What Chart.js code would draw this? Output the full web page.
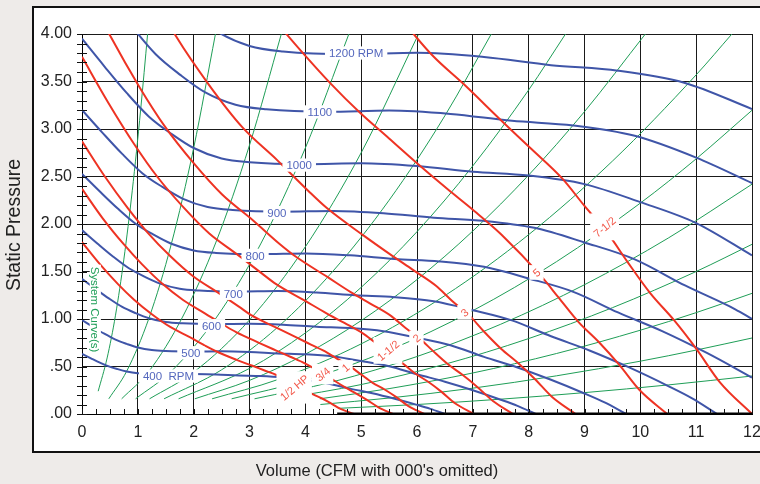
<!DOCTYPE html>
<html><head><meta charset="utf-8">
<script src="https://cdn.jsdelivr.net/npm/chart.js@4.4.1/dist/chart.umd.min.js"></script>
<style>html,body{margin:0;padding:0;background:#eeebe9;}canvas{display:block;}</style>
</head><body>
<canvas id="c" width="760" height="484"></canvas>
<script>
// ---------- tick labels ----------
const xTickLabels = ['0','1','2','3','4','5','6','7','8','9','10','11','12'];
const yTickLabels = ['.00','.50','1.00','1.50','2.00','2.50','3.00','3.50','4.00'];

// ---------- fan speed curves (RPM): [volume, static pressure] ----------
const rpm400 = [[0,0.632],[0.16,0.586],[0.32,0.541],[0.48,0.501],[0.64,0.472],[0.8,0.448],[1.0,0.430],[1.2,0.424],[1.6,0.421],[2.0,0.420],[2.4,0.416],[2.8,0.406],[3.2,0.400],[3.6,0.385],[4.0,0.357],[4.4,0.322],[4.8,0.267],[5.2,0.218],[5.6,0.16],[6.0,0.096],[6.24,0.054],[6.5,0]];
const rpm500 = [[0,0.988],[0.2,0.915],[0.4,0.845],[0.6,0.783],[0.8,0.738],[1.0,0.70],[1.25,0.673],[1.5,0.663],[2.0,0.658],[2.5,0.66],[3.0,0.653],[3.5,0.638],[4.0,0.628],[4.5,0.605],[5.0,0.558],[5.5,0.503],[6.0,0.418],[6.5,0.34],[7.0,0.25],[7.5,0.15],[7.8,0.085],[8.125,0]];
const rpm600 = [[0,1.422],[0.24,1.318],[0.48,1.217],[0.72,1.127],[0.96,1.062],[1.2,1.008],[1.5,0.968],[1.8,0.954],[2.4,0.947],[3.0,0.950],[3.6,0.940],[4.2,0.918],[4.8,0.904],[5.4,0.871],[6.0,0.803],[6.6,0.724],[7.2,0.601],[7.8,0.490],[8.4,0.36],[9.0,0.216],[9.36,0.122],[9.75,0]];
const rpm700 = [[0,1.936],[0.28,1.793],[0.56,1.656],[0.84,1.534],[1.12,1.446],[1.4,1.372],[1.75,1.318],[2.1,1.299],[2.8,1.289],[3.5,1.294],[4.2,1.279],[4.9,1.250],[5.6,1.230],[6.3,1.186],[7.0,1.093],[7.7,0.985],[8.4,0.818],[9.1,0.666],[9.8,0.49],[10.5,0.294],[10.92,0.167],[11.375,0]];
const rpm800 = [[0,2.528],[0.32,2.342],[0.64,2.163],[0.96,2.003],[1.28,1.888],[1.6,1.792],[2.0,1.722],[2.4,1.696],[3.2,1.683],[4.0,1.690],[4.8,1.670],[5.6,1.632],[6.4,1.606],[7.2,1.549],[8.0,1.427],[8.8,1.286],[9.6,1.069],[10.4,0.870],[11.2,0.64],[12.0,0.384]];
const rpm900 = [[0,3.2],[0.36,2.965],[0.72,2.738],[1.08,2.535],[1.44,2.390],[1.8,2.268],[2.25,2.179],[2.7,2.147],[3.6,2.130],[4.5,2.138],[5.4,2.114],[6.3,2.066],[7.2,2.033],[8.1,1.960],[9.0,1.806],[9.9,1.628],[10.8,1.353],[11.7,1.102],[12.0,1.0]];
const rpm1000 = [[0,3.95],[0.4,3.66],[0.8,3.38],[1.2,3.13],[1.6,2.95],[2.0,2.80],[2.5,2.69],[3.0,2.65],[4.0,2.63],[5.0,2.64],[6.0,2.61],[7.0,2.55],[8.0,2.51],[9.0,2.42],[10.0,2.23],[11.0,2.01],[12.0,1.67]];
const rpm1100 = [[0.44,4.43],[0.88,4.09],[1.32,3.787],[1.76,3.570],[2.2,3.388],[2.75,3.255],[3.3,3.207],[4.4,3.182],[5.5,3.194],[6.6,3.158],[7.7,3.086],[8.8,3.037],[9.9,2.928],[11.0,2.698],[12.0,2.43]];
const rpm1200 = [[1.92,4.248],[2.4,4.032],[3.0,3.874],[3.6,3.816],[4.8,3.787],[6.0,3.802],[7.2,3.758],[8.4,3.672],[9.6,3.614],[10.8,3.485],[12.0,3.211]];
const rpmNames = ['400  RPM','500','600','700','800','900','1000','1100','1200 RPM'];

// ---------- horsepower curves ----------
const hp12 = [[0,1.81],[0.324,1.575],[0.649,1.365],[0.933,1.203],[1.257,1.047],[1.58,0.916],[1.93,0.809],[2.23,0.712],[2.41,0.658],[2.77,0.570],[3.04,0.510],[3.26,0.460],[3.49,0.408],[3.65,0.36],[3.82,0.311],[3.96,0.265],[4.13,0.209],[4.30,0.163],[4.46,0.112],[4.63,0.054],[4.87,0]];
const hp34 = [[0,2.37],[0.371,2.06],[0.743,1.79],[1.068,1.58],[1.44,1.37],[1.81,1.20],[2.20,1.06],[2.55,0.933],[2.76,0.862],[3.18,0.747],[3.48,0.668],[3.73,0.603],[3.99,0.534],[4.18,0.472],[4.38,0.407],[4.53,0.347],[4.73,0.274],[4.92,0.213],[5.11,0.146],[5.31,0.071],[5.57,0]];
const hp1 = [[0,2.87],[0.409,2.50],[0.817,2.17],[1.175,1.91],[1.584,1.66],[1.99,1.45],[2.43,1.28],[2.81,1.13],[3.03,1.04],[3.49,0.906],[3.83,0.809],[4.10,0.731],[4.39,0.647],[4.60,0.572],[4.82,0.493],[4.99,0.42],[5.20,0.331],[5.42,0.258],[5.63,0.177],[5.84,0.086],[6.13,0]];
const hp1h = [[0,3.76],[0.468,3.28],[0.936,2.84],[1.345,2.50],[1.81,2.18],[2.28,1.90],[2.78,1.68],[3.22,1.48],[3.47,1.37],[4.0,1.19],[4.38,1.06],[4.70,0.958],[5.03,0.848],[5.26,0.749],[5.51,0.646],[5.71,0.551],[5.95,0.434],[6.20,0.339],[6.44,0.233],[6.68,0.113],[7.02,0]];
const hp2 = [[0,4.56],[0.515,3.97],[1.03,3.44],[1.48,3.03],[2.0,2.64],[2.51,2.31],[3.06,2.04],[3.54,1.79],[3.82,1.66],[4.40,1.44],[4.82,1.28],[5.17,1.16],[5.54,1.03],[5.79,0.907],[6.07,0.783],[6.28,0.667],[6.55,0.526],[6.82,0.41],[7.09,0.28],[7.36,0.137],[7.72,0]];
const hp3 = [[1.18,4.51],[1.69,3.97],[2.28,3.46],[2.87,3.02],[3.50,2.67],[4.05,2.35],[4.38,2.17],[5.04,1.88],[5.52,1.68],[5.92,1.52],[6.34,1.35],[6.63,1.19],[6.95,1.03],[7.19,0.874],[7.50,0.69],[7.81,0.537],[8.11,0.369],[8.42,0.179],[8.84,0]];
const hp5 = [[3.2,4.32],[3.66,4.0],[3.91,3.83],[4.45,3.48],[4.98,3.17],[5.5,2.90],[5.98,2.65],[6.54,2.37],[7.02,2.14],[7.51,1.89],[8.24,1.44],[8.53,1.23],[8.89,0.97],[9.26,0.755],[9.62,0.52],[9.99,0.25],[10.48,0]];
const hp75 = [[4.75,4.95],[5.5,4.33],[5.94,4.0],[6.3,3.76],[6.84,3.47],[7.49,3.10],[8.03,2.80],[8.6,2.48],[9.0,2.19],[9.43,1.89],[9.76,1.61],[10.18,1.27],[10.6,0.99],[11.01,0.68],[11.43,0.33],[12,0]];
const hpNames = ['1/2 HP','3/4','1','1-1/2','2','3','5','7-1/2'];

// ---------- system curves ----------
const sys1 = [[0.29,0.24],[0.45,0.59],[0.6,1.04],[0.75,1.63],[0.9,2.35],[1.05,3.20],[1.175,4.0]];
const sys2 = [[0.48,0.16],[0.8,0.45],[1.2,1.01],[1.6,1.79],[2.0,2.80],[2.39,4.0]];
const sys3 = [[0.71,0.16],[1.2,0.45],[1.8,1.02],[2.4,1.81],[3.0,2.83],[3.57,4.0]];
const sys4 = [[0.96,0.16],[1.6,0.45],[2.4,1.01],[3.2,1.79],[4.0,2.80],[4.78,4.0]];
const sys5 = [[1.21,0.16],[2.0,0.44],[3.0,0.99],[4.0,1.76],[5.0,2.75],[6.02,3.99]];
const sys6 = [[1.47,0.16],[2.5,0.465],[3.5,0.911],[4.5,1.507],[5.5,2.25],[6.5,3.14],[7.33,4.0]];
const sys7 = [[1.73,0.16],[3.0,0.48],[4.0,0.853],[5.0,1.333],[6.0,1.919],[7.0,2.612],[8.0,3.411],[8.66,4.0]];
const sys8 = [[2.02,0.16],[3.0,0.354],[4.0,0.629],[5.0,0.983],[6.0,1.415],[7.0,1.926],[8.0,2.515],[9.0,3.183],[10.09,4.0]];
const sys9 = [[2.33,0.16],[3.5,0.361],[5.0,0.738],[6.5,1.246],[8.0,1.888],[9.5,2.662],[11.0,3.57],[11.64,4.0]];
const sys10 = [[2.68,0.16],[4.0,0.355],[5.5,0.672],[7.0,1.088],[8.5,1.604],[10.0,2.22],[11.0,2.686],[12,3.197]];
const sys11 = [[3.09,0.16],[4.5,0.34],[6.0,0.605],[7.5,0.945],[9.0,1.361],[10.5,1.852],[12,2.419]];
const sys12 = [[3.58,0.16],[5.0,0.31],[6.5,0.524],[8.0,0.794],[9.5,1.119],[11.0,1.50],[12,1.786]];
const sys13 = [[4.26,0.16],[5.5,0.267],[7.0,0.432],[8.5,0.637],[10.0,0.882],[11.0,1.067],[12,1.27]];
const sys14 = [[4.27,0.10],[5.5,0.168],[7.0,0.272],[8.5,0.402],[10.0,0.556],[11.0,0.673],[12,0.80]];
const sys15 = [[4.6,0.06],[6.0,0.10],[7.5,0.156],[9.0,0.225],[10.5,0.306],[12,0.40]];
const baseBar = [[4.57,0],[12,0]];

// ---------- label anchors (data coordinates) ----------
const rpmLabelAt = [[1.55,0.40],[1.95,0.645],[2.32,0.93],[2.71,1.27],[3.10,1.67],[3.49,2.12],[3.89,2.62],[4.26,3.18],[4.91,3.80]];
const hpLabelAt = [[3.80,0.28],[4.31,0.42],[4.72,0.49],[5.48,0.67],[5.99,0.80],[6.85,1.07],[8.14,1.49],[9.36,1.97]];
const sysLabelAt = [0.238,1.10];

const BLUE='#3f55a8', RED='#ee3323', GREEN='#1f9e57';
const toXY = a => a.map(p => ({x:p[0], y:p[1]}));
function ds(arr, color, w, order){
  return {data: toXY(arr), showLine:true, borderColor:color, backgroundColor:color, borderWidth:w,
          pointRadius:0, pointHoverRadius:0, cubicInterpolationMode:'monotone', order:order};
}
const datasets = [];
[sys1,sys2,sys3,sys4,sys5,sys6,sys7,sys8,sys9,sys10,sys11,sys12,sys13,sys14,sys15].forEach(a=>datasets.push(ds(a,GREEN,1,3)));
[rpm400,rpm500,rpm600,rpm700,rpm800,rpm900,rpm1000,rpm1100,rpm1200].forEach(a=>datasets.push(ds(a,BLUE,2,2)));
[hp12,hp34,hp1,hp1h,hp2,hp3,hp5,hp75].forEach(a=>datasets.push(ds(a,RED,2,1)));
datasets.push(ds(baseBar,'#000',3,0));

const frame = {
  id:'frame',
  beforeDraw(chart){
    const c = chart.ctx;
    c.save();
    c.fillStyle='#eeebe9'; c.fillRect(0,0,760,484);
    c.fillStyle='#ffffff'; c.fillRect(33,7,740,445);
    c.strokeStyle='#111'; c.lineWidth=2; c.strokeRect(33,7,740,445);
    c.restore();
  },
  afterDraw(chart){
    const c = chart.ctx, xs = chart.scales.x, ys = chart.scales.y;
    c.save();
    c.strokeStyle='#111'; c.lineWidth=1;
    c.beginPath();
    for(let i=0;i<=40;i++){ const py=Math.round(ys.getPixelForValue(i/10))+0.5; c.moveTo(77,py); c.lineTo(87,py); }
    const b = Math.round(ys.getPixelForValue(0));
    for(let i=0;i<=48;i++){ const px=Math.round(xs.getPixelForValue(i/4))+0.5; c.moveTo(px,b); c.lineTo(px,b-5); }
    c.stroke();
    // axis titles
    c.fillStyle='#222';
    c.font='16.5px "Liberation Sans", Arial, sans-serif';
    c.textAlign='center'; c.textBaseline='middle';
    c.fillText("Volume (CFM with 000's omitted)", 377, 471);
    c.translate(15,225); c.rotate(-Math.PI/2);
    c.font='19.5px "Liberation Sans", Arial, sans-serif';
    c.fillText('Static Pressure',0,0);
    c.restore();
  },
  afterDatasetsDraw(chart){
    const c = chart.ctx, xs = chart.scales.x, ys = chart.scales.y;
    function lab(text, dx, dy, color, size, rot, padX, padY){
      const px = xs.getPixelForValue(dx), py = ys.getPixelForValue(dy);
      c.save();
      c.font = size+'px "Liberation Sans", Arial, sans-serif';
      const w = c.measureText(text).width, h = size*0.8;
      const cs=Math.abs(Math.cos(rot)), sn=Math.abs(Math.sin(rot));
      const bw = w*cs + h*sn + 2*padX, bh = w*sn + h*cs + 2*padY;
      c.fillStyle='#fff'; c.fillRect(px-bw/2, py-bh/2, bw, bh);
      c.translate(px,py); c.rotate(rot);
      c.fillStyle=color; c.textAlign='center'; c.textBaseline='middle';
      c.fillText(text,0,1);
      c.restore();
    }
    rpmNames.forEach((t,i)=>lab(t, rpmLabelAt[i][0], rpmLabelAt[i][1], '#5467bd', 11.5, 0, 4, 2));
    hpNames.forEach((t,i)=>lab(t, hpLabelAt[i][0], hpLabelAt[i][1], '#f2584a', 11, -0.7, 2, 2));
    lab('System Curve(s)', sysLabelAt[0], sysLabelAt[1], '#22a05a', 11.5, Math.PI/2, 1, 2);
  }
};

new Chart(document.getElementById('c'), {
  type:'scatter',
  data:{datasets},
  options:{
    responsive:false, devicePixelRatio:1, animation:false,
    layout:{padding:{left:0,right:8,top:34,bottom:0}},
    plugins:{legend:{display:false}, tooltip:{enabled:false}},
    scales:{
      x:{type:'linear', min:0, max:12,
         afterFit:s=>{s.height=70; s.paddingRight=8; s.paddingLeft=0;},
         ticks:{stepSize:1, autoSkip:false, maxRotation:0, padding:9, color:'#222',
                font:{family:'"Liberation Sans", Arial, sans-serif', size:16},
                callback:(v,i)=>xTickLabels[i]},
         grid:{color:'#1a1a1a', lineWidth:1, drawTicks:false},
         border:{color:'#000', width:1}},
      y:{type:'linear', min:0, max:4,
         afterFit:s=>{s.width=82;},
         ticks:{stepSize:0.5, autoSkip:false, padding:10, color:'#222',
                font:{family:'"Liberation Sans", Arial, sans-serif', size:16},
                callback:(v,i)=>yTickLabels[i]},
         grid:{color:'#1a1a1a', lineWidth:1, drawTicks:false},
         border:{color:'#000', width:1}}
    }
  },
  plugins:[frame]
});
</script>
</body></html>
